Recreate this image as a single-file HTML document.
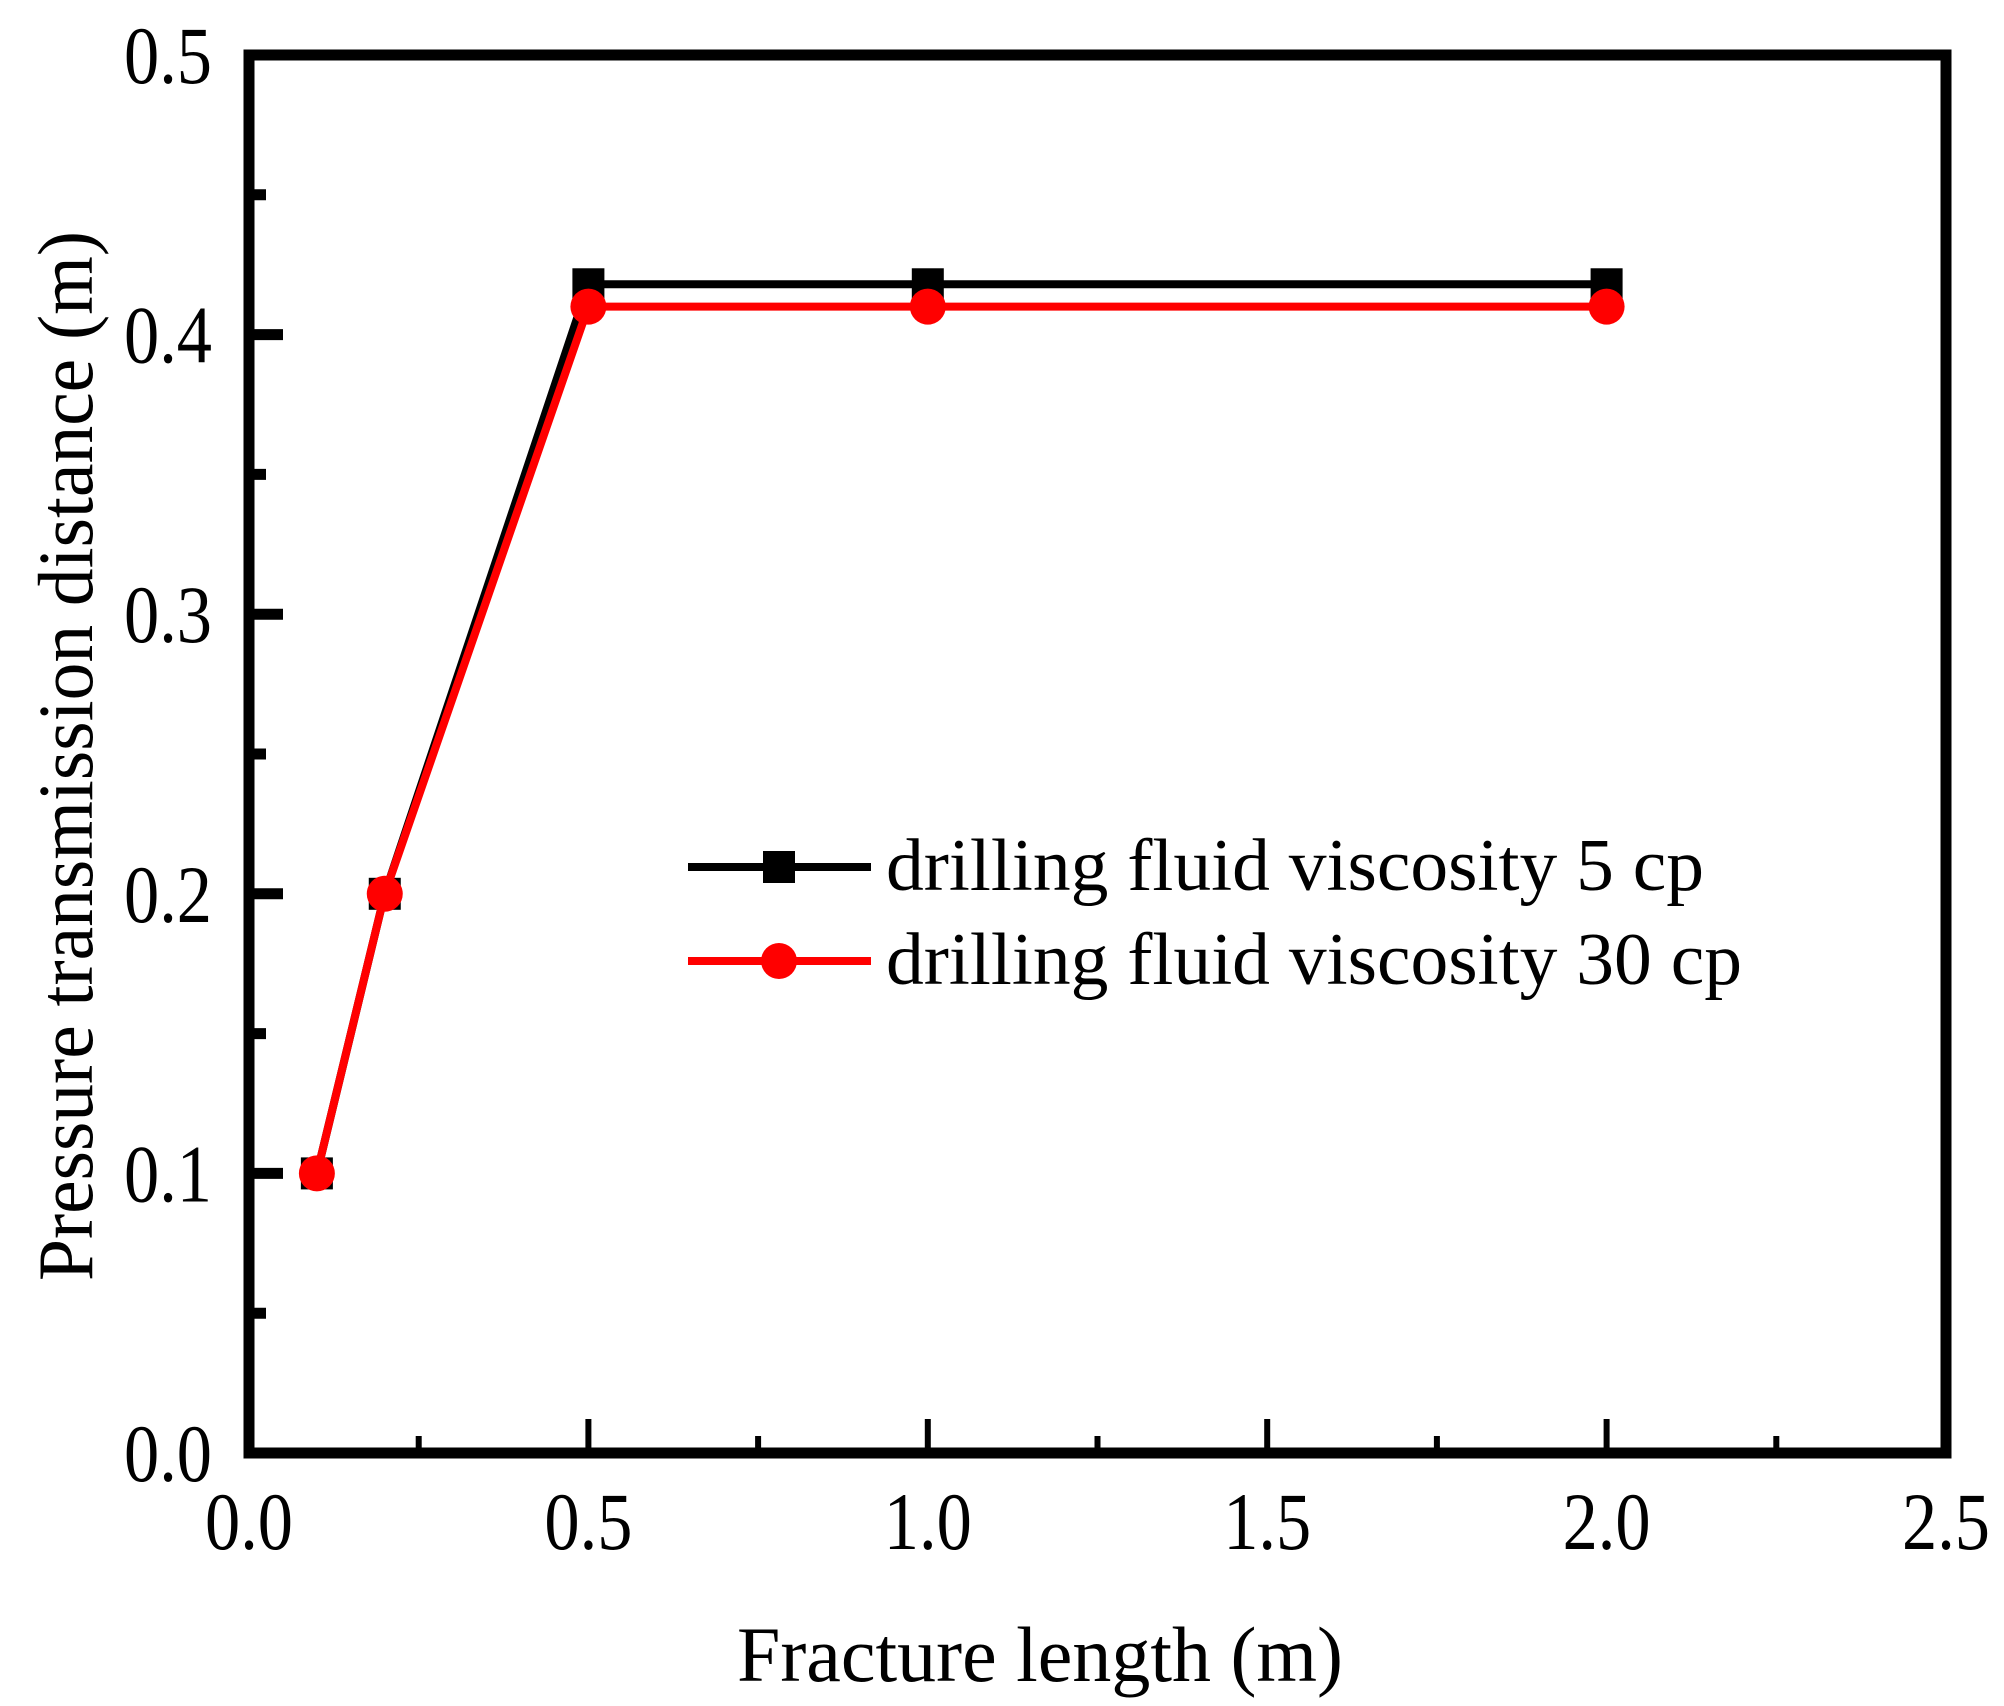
<!DOCTYPE html>
<html><head><meta charset="utf-8"><style>
html,body{margin:0;padding:0;background:#fff;}
svg{display:block;font-family:"Liberation Serif","Times New Roman",serif;}
</style></head><body>
<svg id="chart" width="2004" height="1706" viewBox="0 0 2004 1706">
<g id="axes"></g>
<g id="series"></g>
<g id="legend"></g>
</svg>
<script>
const categories = [0.1, 0.2, 0.5, 1.0, 2.0];
const series5cp = [0.1, 0.2, 0.418, 0.418, 0.418];
const series30cp = [0.1, 0.2, 0.41, 0.41, 0.41];
const xTicks = [0, 0.5, 1.0, 1.5, 2.0, 2.5];
const xTickLabels = ["0.0", "0.5", "1.0", "1.5", "2.0", "2.5"];
const yTicks = [0, 0.1, 0.2, 0.3, 0.4, 0.5];
const yTickLabels = ["0.0", "0.1", "0.2", "0.3", "0.4", "0.5"];

const NS = "http://www.w3.org/2000/svg";
const L = 249, R = 1946, T = 55, B = 1453;
function xs(v){ return L + (v - 0) / 2.5 * (R - L); }
function ys(v){ return B - (v - 0) / 0.5 * (B - T); }
function mk(tag, attrs, parent){
  const e = document.createElementNS(NS, tag);
  for (const k in attrs) e.setAttribute(k, attrs[k]);
  parent.appendChild(e);
  return e;
}
const axes = document.getElementById('axes');
const ser = document.getElementById('series');
const leg = document.getElementById('legend');

const frame = mk('rect', {x:L, y:T, width:R-L, height:B-T, fill:'none', stroke:'#000', 'stroke-width':11}, axes);



xTicks.forEach((v,i)=>{
  const x = xs(v);
  const t = mk('line', {x1:x, x2:x, y1:B, y2:B-34, stroke:'#000', 'stroke-width':6}, axes);
  
  
  const lb = mk('text', {x:x, y:B+96, 'font-size':82, 'text-anchor':'middle', textLength:88, lengthAdjust:'spacingAndGlyphs'}, axes);
  lb.textContent = xTickLabels[i];
  
  
  if (i < xTicks.length-1){
    const xm = xs(v + 0.25);
    const m = mk('line', {x1:xm, x2:xm, y1:B, y2:B-17, stroke:'#000', 'stroke-width':6}, axes);
    
    
  }
});
yTicks.forEach((v,i)=>{
  const y = ys(v);
  const t = mk('line', {x1:L, x2:L+34, y1:y, y2:y, stroke:'#000', 'stroke-width':11}, axes);
  
  
  const lb = mk('text', {x:212, y:y+28, 'font-size':82, 'text-anchor':'end', textLength:88, lengthAdjust:'spacingAndGlyphs'}, axes);
  lb.textContent = yTickLabels[i];
  
  
  if (i < yTicks.length-1){
    const ym = ys(v + 0.05);
    const m = mk('line', {x1:L, x2:L+17, y1:ym, y2:ym, stroke:'#000', 'stroke-width':11}, axes);
    
    
  }
});
const xt = mk('text', {x:1040, y:1681, 'font-size':78, 'text-anchor':'middle', textLength:606, lengthAdjust:'spacingAndGlyphs'}, axes);
xt.textContent = 'Fracture length  (m)';


const yt = mk('text', {x:0, y:0, 'font-size':78, 'text-anchor':'middle', transform:'translate(92,756) rotate(-90)', textLength:1050, lengthAdjust:'spacingAndGlyphs'}, axes);
yt.textContent = 'Pressure transmission distance (m)';



function drawSeries(vals, color, marker, name){
  const pts = categories.map((c,i)=>xs(c)+','+ys(vals[i])).join(' ');
  const pl = mk('polyline', {points:pts, fill:'none', stroke:color, 'stroke-width':8, 'stroke-linejoin':'miter'}, ser);
  
  
  categories.forEach((c,i)=>{
    const x = xs(c), y = ys(vals[i]);
    let m;
    if (marker === 'square') m = mk('rect', {x:x-16, y:y-16, width:32, height:32, fill:color}, ser);
    else m = mk('circle', {cx:x, cy:y, r:18, fill:color}, ser);
    
    
  });
}
drawSeries(series5cp, '#000', 'square', 'viscosity-5cp');
drawSeries(series30cp, '#ff0000', 'circle', 'viscosity-30cp');

function legendEntry(y, color, marker, label, name, len){
  const g = mk('g', {}, leg);
  
  
  mk('line', {x1:688, x2:871, y1:y, y2:y, stroke:color, 'stroke-width':8}, g);
  if (marker === 'square') mk('rect', {x:763, y:y-16, width:32, height:32, fill:color}, g);
  else mk('circle', {cx:779, cy:y, r:18, fill:color}, g);
  const t = mk('text', {x:886, y:y+23, 'font-size':74, textLength:len, lengthAdjust:'spacingAndGlyphs'}, g);
  t.textContent = label;
}
legendEntry(867, '#000', 'square', 'drilling fluid viscosity 5 cp', 'legend-entry-5cp', 818);
legendEntry(961, '#ff0000', 'circle', 'drilling fluid viscosity 30 cp', 'legend-entry-30cp', 856);
</script>
</body></html>
